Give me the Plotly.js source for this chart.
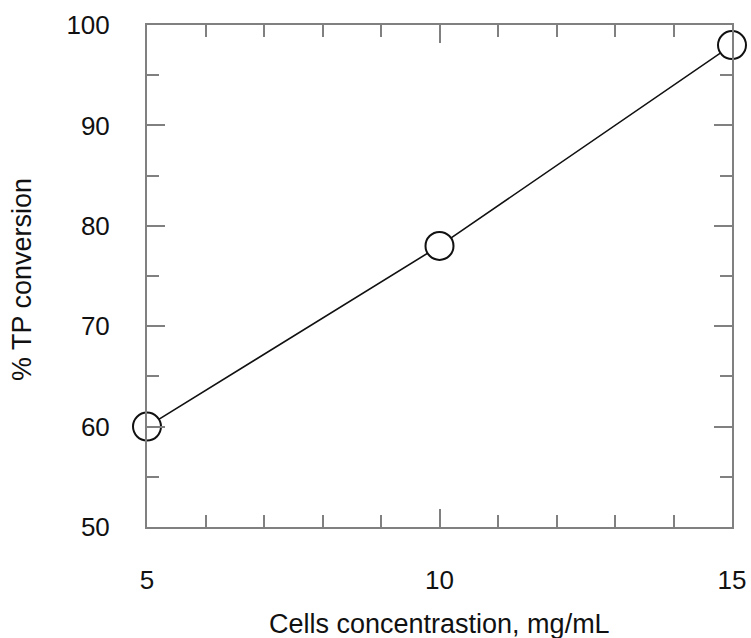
<!DOCTYPE html>
<html>
<head>
<meta charset="utf-8">
<script src="https://cdn.plot.ly/plotly-3.0.1.min.js"></script>
<style>html,body{margin:0;padding:0;background:#fff;}#chart{width:751px;height:638px;}</style>
</head>
<body>
<div id="chart"></div>
<script>
const cellsConc = [5, 10, 15];
const tpConversion = [60, 78, 98];
const xTickVals = [5, 10, 15];
const yTickVals = [50, 60, 70, 80, 90, 100];
const xTitle = "Cells concentrastion, mg/mL";
const yTitle = "% TP conversion";

const font = {family: "Liberation Sans, Arial, sans-serif", size: 26, color: "#111"};
const titleFont = {family: "Liberation Sans, Arial, sans-serif", size: 27, color: "#111"};
const trace = {
  x: cellsConc, y: tpConversion, type: "scatter", mode: "lines+markers",
  line: {color: "#111", width: 1.6},
  marker: {size: 28, color: "#fff", line: {color: "#111", width: 2}},
  cliponaxis: false, showlegend: false
};
const layout = {
  width: 751, height: 638,
  margin: {l: 147, r: 19, t: 25, b: 111},
  paper_bgcolor: "#fff", plot_bgcolor: "#fff",
  font: font,
  xaxis: {
    range: [5, 15], tickvals: xTickVals, ticks: "inside", ticklen: 18, tickwidth: 2,
    tickcolor: "#808080", showline: true, linecolor: "#808080", linewidth: 2,
    mirror: "ticks", showgrid: false, zeroline: false, ticklabelstandoff: 29,
    minor: {dtick: 1, ticks: "inside", ticklen: 12, tickwidth: 2, tickcolor: "#808080", showgrid: false},
    tickfont: font
  },
  yaxis: {
    range: [50, 100], tickvals: yTickVals, ticks: "inside", ticklen: 18, tickwidth: 2,
    tickcolor: "#808080", showline: true, linecolor: "#808080", linewidth: 2,
    mirror: "ticks", showgrid: false, zeroline: false, ticklabelstandoff: 30,
    minor: {dtick: 5, ticks: "inside", ticklen: 12, tickwidth: 2, tickcolor: "#808080", showgrid: false},
    tickfont: font
  },
  annotations: [{
    text: xTitle, xref: "paper", yref: "paper", x: 0.5, y: (527.5 - 625) / 503,
    xanchor: "center", yanchor: "middle", showarrow: false, font: titleFont
  }, {
    text: yTitle, xref: "paper", yref: "paper", x: (22 - 147) / 585, y: (527.5 - 280) / 503,
    xanchor: "center", yanchor: "middle", textangle: -90, showarrow: false, font: titleFont
  }]
};
Plotly.newPlot("chart", [trace], layout, {displayModeBar: false, staticPlot: true});
</script>
</body>
</html>
